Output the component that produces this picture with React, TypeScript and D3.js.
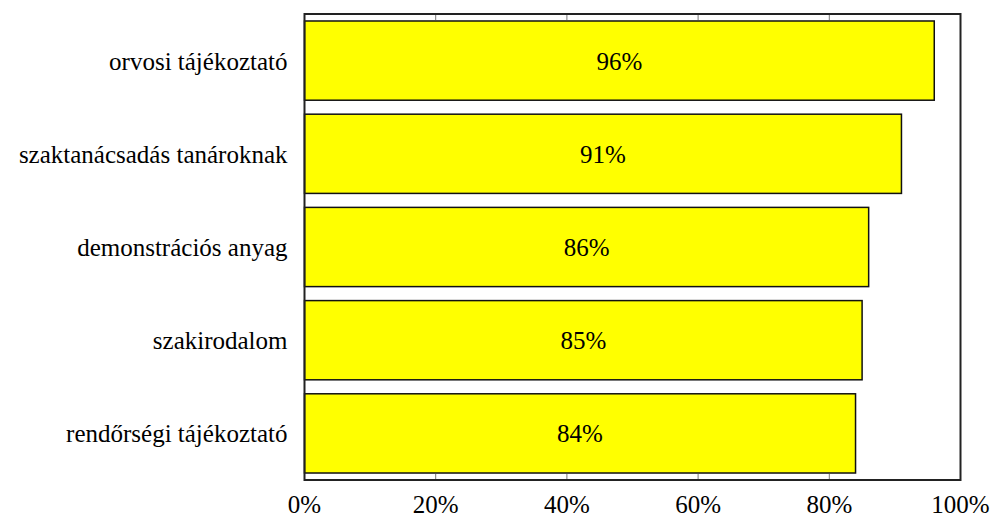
import React from "react";
import * as d3 from "d3";

const categories = [
  "orvosi tájékoztató",
  "szaktanácsadás tanároknak",
  "demonstrációs anyag",
  "szakirodalom",
  "rendőrségi tájékoztató",
];
const values = [96, 91, 86, 85, 84];
const ticks = [0, 20, 40, 60, 80, 100];

const W = 991;
const H = 518;
const left = 304.5;
const right = 960.5;
const top = 14;
const bottom = 480;

export default function App() {
  const x = d3.scaleLinear().domain([0, 100]).range([left, right]);
  const y = d3
    .scaleBand<string>()
    .domain(categories)
    .range([top, bottom])
    .paddingInner(0.15)
    .paddingOuter(0.075);

  return (
    <div
      style={{
        position: "absolute",
        left: 0,
        top: 0,
        width: W,
        height: H,
        fontFamily: "Liberation Serif",
        fontSize: 25,
      }}
    >
      <svg width={W} height={H} style={{ display: "block" }}>
        {/* tick marks along top and bottom edges */}
        {ticks.map((t) => (
          <g key={t} stroke="#777" strokeWidth={1}>
            <line x1={x(t)} x2={x(t)} y1={top} y2={top + 6} />
            <line x1={x(t)} x2={x(t)} y1={bottom - 6} y2={bottom} />
          </g>
        ))}
        {categories.map((c, i) => {
          const y0 = y(c)!;
          const bh = y.bandwidth();
          const cy = y0 + bh / 2;
          return (
            <g key={c}>
              <rect
                x={x(0)}
                y={y0}
                width={x(values[i]) - x(0)}
                height={bh}
                fill="#ffff00"
                stroke="#111"
                strokeWidth={1.5}
              />
              <text x={(x(0) + x(values[i])) / 2} y={cy + 9} textAnchor="middle">
                {values[i]}%
              </text>
              <text x={left - 17} y={cy + 9} textAnchor="end">
                {c}
              </text>
            </g>
          );
        })}
        {/* plot frame */}
        <rect
          x={left}
          y={top}
          width={right - left}
          height={bottom - top}
          fill="none"
          stroke="#222"
          strokeWidth={2}
        />
        {ticks.map((t) => (
          <text key={t} x={x(t)} y={513} textAnchor="middle">
            {t}%
          </text>
        ))}
      </svg>
    </div>
  );
}
